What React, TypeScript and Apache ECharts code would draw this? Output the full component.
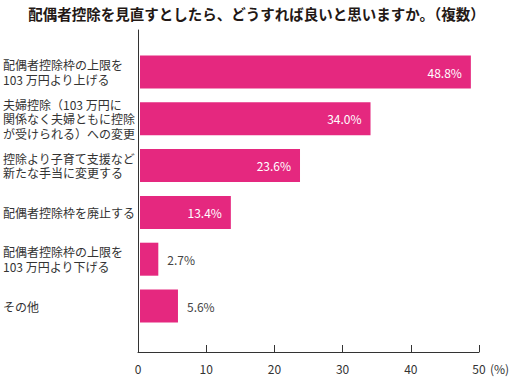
import React, { useEffect, useRef } from "react";
import * as echarts from "echarts";

const titleText = "配偶者控除を見直すとしたら、どうすれば良いと思いますか。（複数）";
const categories = [
  "配偶者控除枠の上限を\n103 万円より上げる",
  "夫婦控除（103 万円に\n関係なく夫婦ともに控除\nが受けられる）への変更",
  "控除より子育て支援など\n新たな手当に変更する",
  "配偶者控除枠を廃止する",
  "配偶者控除枠の上限を\n103 万円より下げる",
  "その他",
];
const values = [48.8, 34.0, 23.6, 13.4, 2.7, 5.6];
const insideLabel = [true, true, true, true, false, false];
const xTicks = [0, 10, 20, 30, 40, 50];
const unitLabel = "(%)";

const FONT = "'Noto Sans CJK JP', 'Noto Sans', sans-serif";
const PINK = "#e5287f";

export default function App() {
  const ref = useRef<HTMLDivElement>(null);
  useEffect(() => {
    document.body.style.margin = "0";
    const chart = echarts.init(ref.current!, undefined, { renderer: "svg" });
    chart.setOption({
      animation: false,
      textStyle: { fontFamily: FONT },
      title: {
        text: titleText,
        left: "center",
        top: 1,
        textStyle: { fontSize: 14.5, fontWeight: "bold", color: "#231815", fontFamily: FONT },
      },
      grid: [
        { left: 138, right: 34, top: 30, bottom: 26 },
        { left: 138, right: 34, top: 48.6, height: 280.8 },
      ],
      xAxis: [
        {
          type: "value",
          gridIndex: 0,
          min: xTicks[0],
          max: xTicks[xTicks.length - 1],
          interval: 10,
          axisLine: { show: true, lineStyle: { color: "#333", width: 1 } },
          axisTick: { show: true, inside: true, length: 7, lineStyle: { color: "#333" } },
          axisLabel: { color: "#333", fontSize: 12, margin: 10, fontFamily: FONT },
          splitLine: { show: false },
        },
        {
          type: "value",
          gridIndex: 1,
          min: 0,
          max: 50,
          show: false,
        },
      ],
      yAxis: [
        {
          type: "value",
          gridIndex: 0,
          axisLine: { show: true, lineStyle: { color: "#333", width: 1 } },
          axisTick: { show: false },
          axisLabel: { show: false },
          splitLine: { show: false },
        },
        {
          type: "category",
          gridIndex: 1,
          inverse: true,
          data: categories,
          axisLine: { show: false },
          axisTick: { show: false },
          axisLabel: {
            align: "left",
            margin: 137,
            fontSize: 12,
            lineHeight: 14.5,
            color: "#333",
            fontFamily: FONT,
          },
        },
      ],
      graphic: [
        {
          type: "text",
          left: 490,
          top: 362,
          style: { text: unitLabel, fontSize: 12, fill: "#333", fontFamily: FONT },
        },
      ],
      series: [
        {
          type: "bar",
          xAxisIndex: 1,
          yAxisIndex: 1,
          barWidth: 33,
          itemStyle: { color: PINK },
          data: values.map((v, i) => ({
            value: v,
            label: insideLabel[i]
              ? { show: true, position: "insideRight", distance: 9, color: "#fff", fontSize: 12 }
              : { show: true, position: "right", distance: 9, color: "#444", fontSize: 12 },
          })),
          label: {
            show: true,
            fontFamily: FONT,
            formatter: (p: any) => p.value.toFixed(1) + "%",
          },
        },
      ],
    });
    return () => chart.dispose();
  }, []);
  return <div ref={ref} style={{ width: 513, height: 378 }} />;
}
